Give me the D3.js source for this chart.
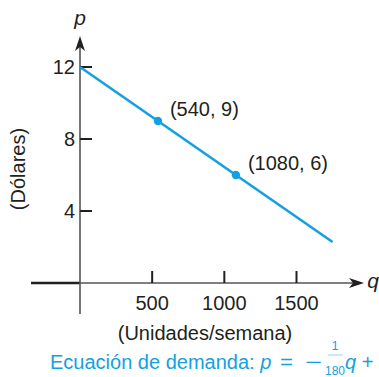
<!DOCTYPE html>
<html><head><meta charset="utf-8">
<script src="https://cdn.jsdelivr.net/npm/d3@7"></script>
<style>body{margin:0;background:#fff}svg{display:block}text{font-family:"Liberation Sans",Arial,sans-serif;fill:#231f20}</style>
</head><body><svg id="c" width="379" height="377"></svg>
<script>
const xTicks = [500, 1000, 1500];
const yTicks = [4, 8, 12];
const lineQ = [0, 1750];
const lineP = [12, 2.28];
const pointQ = [540, 1080];
const pointP = [9, 6];
const pointLabels = ["(540, 9)", "(1080, 6)"];

const svg = d3.select("#c");
const x = d3.scaleLinear().domain([0, 1500]).range([80, 296.5]);
const y = d3.scaleLinear().domain([0, 12]).range([283, 67]);
const blue = "#14a0e0", axisCol = "#555";

// axes
svg.append("line").attr("x1", 31).attr("x2", x(0)).attr("y1", y(0)).attr("y2", y(0)).attr("stroke", "#231f20").attr("stroke-width", 2.5);
svg.append("line").attr("x1", x(0)).attr("x2", 358).attr("y1", y(0)).attr("y2", y(0)).attr("stroke", axisCol).attr("stroke-width", 1.6);
svg.append("line").attr("x1", x(0)).attr("x2", x(0)).attr("y1", 314).attr("y2", 42).attr("stroke", axisCol).attr("stroke-width", 1.6);
// arrowheads
const xa = 364, ya0 = y(0);
svg.append("path").attr("d", `M${xa},${ya0} L${xa-15},${ya0-5} L${xa-11},${ya0} L${xa-15},${ya0+5}Z`).attr("fill", "#231f20");
const yx = x(0), yt = 36;
svg.append("path").attr("d", `M${yx},${yt} L${yx-5},${yt+15} L${yx},${yt+11} L${yx+5},${yt+15}Z`).attr("fill", "#231f20");

// ticks
svg.selectAll(".xt").data(xTicks).enter().append("line")
  .attr("x1", d => x(d)).attr("x2", d => x(d)).attr("y1", y(0)).attr("y2", y(0) - 12)
  .attr("stroke", "#231f20").attr("stroke-width", 2);
svg.selectAll(".xl").data(xTicks).enter().append("text")
  .attr("x", d => x(d)).attr("y", y(0) + 27).attr("text-anchor", "middle")
  .attr("font-size", 20).text(d => d);
svg.selectAll(".yt").data(yTicks).enter().append("line")
  .attr("x1", x(0)).attr("x2", x(0) + 12).attr("y1", d => y(d)).attr("y2", d => y(d))
  .attr("stroke", "#231f20").attr("stroke-width", 2);
svg.selectAll(".yl").data(yTicks).enter().append("text")
  .attr("x", x(0) - 5).attr("y", d => y(d) + 7).attr("text-anchor", "end")
  .attr("font-size", 20).text(d => d);

// axis letters
svg.append("text").attr("x", 80).attr("y", 25).attr("text-anchor", "middle").attr("font-size", 21).attr("font-style", "italic").text("p");
svg.append("text").attr("x", 373).attr("y", y(0) + 5).attr("text-anchor", "middle").attr("font-size", 21).attr("font-style", "italic").text("q");

// axis titles
svg.append("text").attr("transform", "translate(25,169) rotate(-90)").attr("text-anchor", "middle").attr("font-size", 20).text("(Dólares)");
svg.append("text").attr("x", 205).attr("y", 340).attr("text-anchor", "middle").attr("font-size", 20).text("(Unidades/semana)");

// line
const pts = lineQ.map((q, i) => [q, lineP[i]]);
svg.append("path").datum(pts).attr("d", d3.line().x(d => x(d[0])).y(d => y(d[1])))
  .attr("stroke", blue).attr("stroke-width", 2.6).attr("fill", "none");
const P = pointQ.map((q, i) => ({q, p: pointP[i], label: pointLabels[i]}));
svg.selectAll(".pt").data(P).enter().append("circle")
  .attr("cx", d => x(d.q)).attr("cy", d => y(d.p)).attr("r", 4.2).attr("fill", blue);
svg.selectAll(".pl").data(P).enter().append("text")
  .attr("x", d => x(d.q) + 12).attr("y", d => y(d.p) - 5)
  .attr("font-size", 20).text(d => d.label);

// equation
const eq = svg.append("text").attr("x", 50).attr("y", 369).attr("font-size", 20).style("fill", blue);
eq.append("tspan").style("fill", blue).text("Ecuación de demanda: ");
eq.append("tspan").style("fill", blue).attr("font-style", "italic").text("p");
svg.append("text").attr("x", 280).attr("y", 369).attr("font-size", 20).style("fill", blue)
  .attr("textLength", 13).attr("lengthAdjust", "spacingAndGlyphs").text("=");
svg.append("text").attr("x", 305).attr("y", 369).attr("font-size", 20).style("fill", blue)
  .attr("textLength", 17).attr("lengthAdjust", "spacingAndGlyphs").text("−");
svg.append("text").attr("x", 335).attr("y", 350).attr("text-anchor", "middle").attr("font-size", 12).style("fill", blue).text("1");
svg.append("line").attr("x1", 328).attr("x2", 343).attr("y1", 355).attr("y2", 355).attr("stroke", blue).attr("stroke-width", 0.8).attr("stroke-opacity", 0.6);
svg.append("text").attr("x", 335).attr("y", 375).attr("text-anchor", "middle").attr("font-size", 12).style("fill", blue).text("180");
const eq2 = svg.append("text").attr("x", 345).attr("y", 369).attr("font-size", 20).style("fill", blue);
eq2.append("tspan").style("fill", blue).attr("font-style", "italic").text("q");
eq2.append("tspan").style("fill", blue).text(" +");
</script></body></html>
